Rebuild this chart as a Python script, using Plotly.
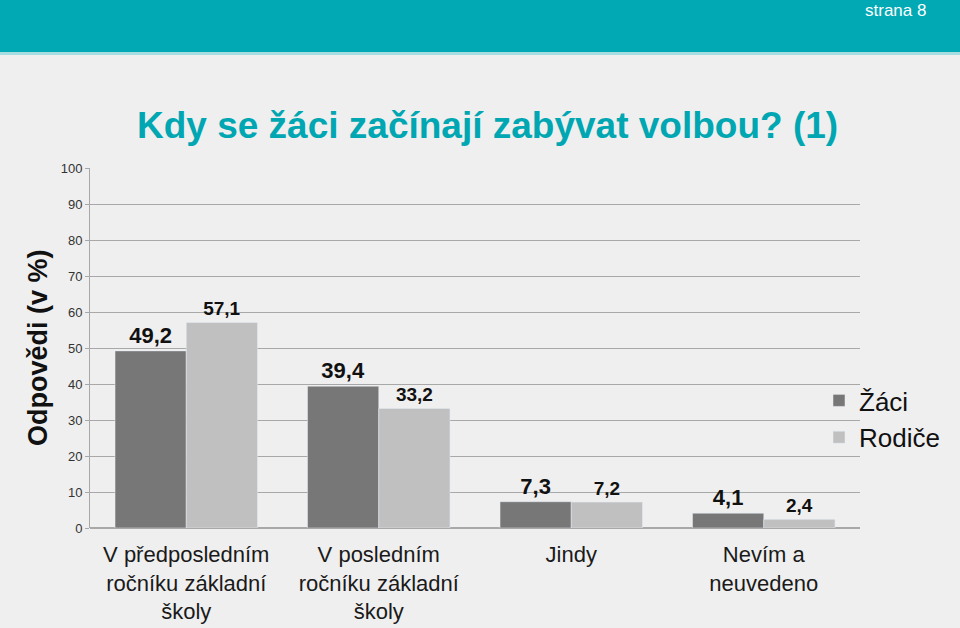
import plotly.graph_objects as go

categories = [
    "V předposledním<br>ročníku základní<br>školy",
    "V posledním<br>ročníku základní<br>školy",
    "Jindy",
    "Nevím a<br>neuvedeno",
]
zaci = [49.2, 39.4, 7.3, 4.1]
rodice = [57.1, 33.2, 7.2, 2.4]
y_ticks = [0, 10, 20, 30, 40, 50, 60, 70, 80, 90, 100]

W, H = 960, 628
L, R, T, B = 90, 100, 168, 100
PW, PH = W - L - R, H - T - B


def px(x):
    return (x - L) / PW


def py(y):
    return (H - B - y) / PH


fig = go.Figure()
fig.add_trace(go.Bar(
    x=categories, y=zaci, name="Žáci", marker_color="#777777",
    texttemplate="%{y:.1f}", textposition="outside",
    textfont=dict(size=22, color="#111111", family="Liberation Sans, Arial", weight="bold"),
))
fig.add_trace(go.Bar(
    x=categories, y=rodice, name="Rodiče", marker_color="#c0c0c0",
    texttemplate="%{y:.1f}", textposition="outside",
    textfont=dict(size=19, color="#111111", family="Liberation Sans, Arial", weight="bold"),
))

fig.update_layout(
    width=W, height=H, autosize=False,
    margin=dict(l=L, r=R, t=T, b=B),
    paper_bgcolor="#efefef", plot_bgcolor="#efefef",
    separators=", ",
    barmode="group", bargap=0.26, bargroupgap=0,
    font=dict(family="Liberation Sans, Arial", color="#222222"),
    showlegend=True,
    legend=dict(x=px(819), y=py(419), xanchor="left", yanchor="middle",
                font=dict(size=26, color="#111111"), bgcolor="rgba(0,0,0,0)",
                itemwidth=30, tracegroupgap=0, borderwidth=0),
    xaxis=dict(tickfont=dict(size=22, color="#1a1a1a"), showgrid=False,
               ticks="", showline=False, ticklabelstandoff=11, automargin=False),
    yaxis=dict(range=[0, 100], tickvals=y_ticks, showgrid=True, automargin=False,
               gridcolor="#a8a8a8", gridwidth=1, zeroline=True,
               zerolinecolor="#a8a8a8", showline=True, linecolor="#a8a8a8",
               ticks="outside", ticklen=4, tickcolor="#a8a8a8",
               tickfont=dict(size=13, color="#333333")),
)

# header band
fig.add_shape(type="rect", xref="paper", yref="paper",
              x0=px(0), x1=px(W), y0=py(52), y1=py(0),
              fillcolor="#00a9b4", line_width=0, layer="above")
fig.add_shape(type="rect", xref="paper", yref="paper",
              x0=px(0), x1=px(W), y0=py(55), y1=py(52),
              fillcolor="#a6dde2", line_width=0, layer="above")
fig.add_annotation(text="strana 8", xref="paper", yref="paper",
                   x=px(928), y=py(10), xanchor="right", yanchor="middle",
                   showarrow=False,
                   font=dict(size=17, color="white",
                             family="Liberation Sans Narrow, Arial Narrow, Liberation Sans"))

# title
fig.add_annotation(text="Kdy se žáci začínají zabývat volbou? (1)",
                   xref="paper", yref="paper", x=px(488), y=py(126),
                   xanchor="center", yanchor="middle", showarrow=False,
                   font=dict(size=37, color="#00a7b2", weight="bold",
                             family="Liberation Sans Narrow, Arial Narrow, Liberation Sans"))

# y axis title
fig.add_annotation(text="Odpovědi (v %)", xref="paper", yref="paper",
                   x=px(38), y=py(348), textangle=-90,
                   xanchor="center", yanchor="middle", showarrow=False,
                   font=dict(size=27, color="#111111", weight="bold"))

fig.write_html(
    "out.html",
    config={"displayModeBar": False, "responsive": False},
    post_script="document.documentElement.style.overflow='hidden';"
                "document.body.style.margin='0';document.body.style.overflow='hidden';",
)
